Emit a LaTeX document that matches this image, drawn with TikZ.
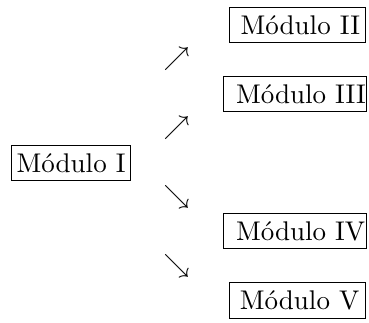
\documentclass[tikz,border=0pt]{standalone}
\newcommand{\modtext}[3]{\makebox[#1][l]{\hspace*{#2}#3}}
\begin{document}
\begin{tikzpicture}[x=0.385pt,y=-0.385pt,
  every node/.style={font=\fontsize{10.4}{12.5}\selectfont},
  modbox/.style={draw, line width=0.4pt, anchor=west, inner xsep=0pt, inner ysep=3.1pt},
  arrowglyph/.style={inner sep=0pt}]
\useasboundingbox (0,0) rectangle (369,322);
\node[modbox] (m1) at (10.7,163) {\modtext{45.9pt}{2.1pt}{Módulo I}};
\node[modbox] (m2) at (229,25) {\modtext{52.2pt}{4.3pt}{Módulo II}};
\node[modbox] (m3) at (223.3,94) {\modtext{54.8pt}{4.7pt}{Módulo III}};
\node[modbox] (m4) at (223.3,231) {\modtext{54.8pt}{4.7pt}{Módulo IV}};
\node[modbox] (m5) at (229,300.5) {\modtext{52.2pt}{4.0pt}{Módulo V}};
\node[arrowglyph] (a1) at (176.5,59) {$\nearrow$};
\node[arrowglyph] (a2) at (176.5,128) {$\nearrow$};
\node[arrowglyph] (a3) at (176.5,196.5) {$\searrow$};
\node[arrowglyph] (a4) at (176.5,266) {$\searrow$};
\end{tikzpicture}
\end{document}
